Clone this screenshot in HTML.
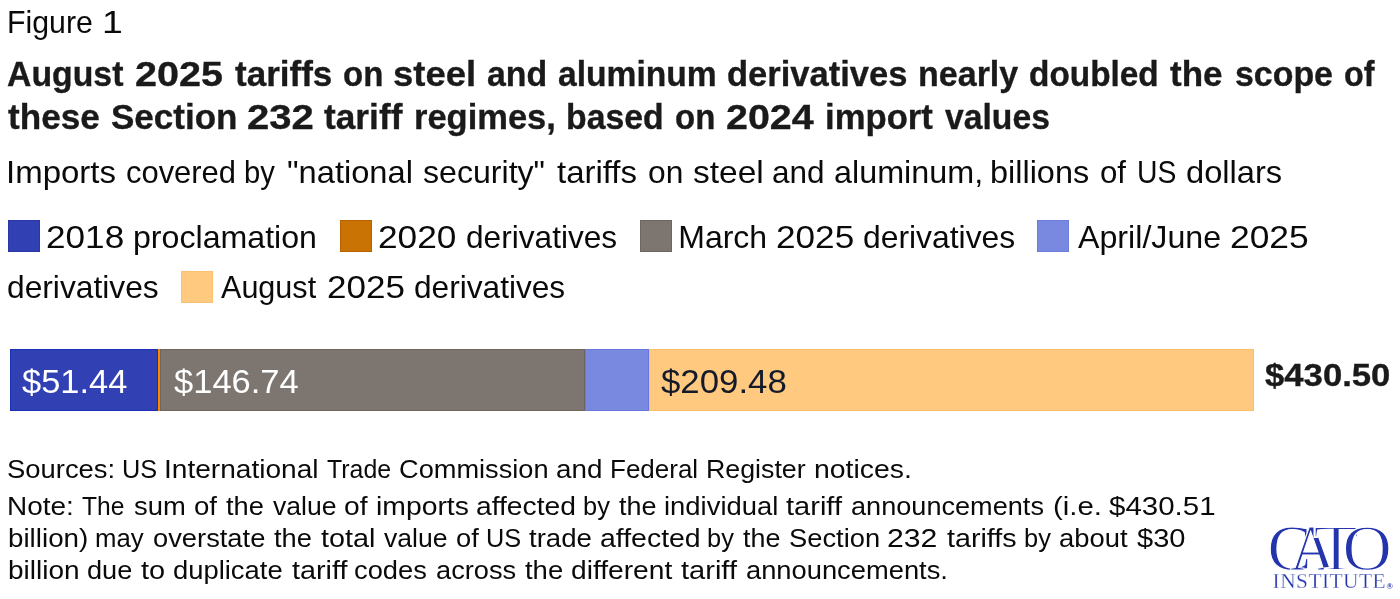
<!DOCTYPE html>
<html lang="en">
<head>
<meta charset="utf-8">
<title>Figure 1</title>
<style>
html,body{margin:0;padding:0;background:#fff;}
body{width:1400px;height:599px;position:relative;overflow:hidden;
  font-family:"Liberation Sans",sans-serif;color:#1a1a1a;}
.ln{position:absolute;left:0;width:1400px;height:1em;line-height:1;white-space:nowrap;margin:0;padding:0;}
.w{position:absolute;top:0;left:0;display:block;line-height:1;white-space:nowrap;transform-origin:0 0;}
.reg{font-weight:400;color:#0a0a0a;}
.bold{font-weight:700;color:#1a1a1a;-webkit-text-stroke:0.35px #1a1a1a;}
.sw{position:absolute;width:32px;height:32px;box-sizing:border-box;}
.seg{position:absolute;top:349px;height:62px;box-sizing:border-box;}
</style>
</head>
<body>

<!-- header -->
<div id="fig" class="ln reg" style="top:7.00px;font-size:31.5px;">
<span class="w" style="left:7.35px;transform:scaleX(0.9608);">Figure</span> <span class="w" style="left:102.04px;transform:scaleX(1.1852);">1</span>
</div>
<div id="t1" class="ln bold" style="top:57.00px;font-size:35.5px;">
<span class="w" style="left:7.05px;transform:scaleX(0.9524);">August</span> <span class="w" style="left:134.86px;transform:scaleX(1.1140);">2025</span> <span class="w" style="left:234.51px;transform:scaleX(0.9871);">tariffs</span> <span class="w" style="left:342.85px;transform:scaleX(0.9308);">on</span> <span class="w" style="left:393.22px;transform:scaleX(1.0259);">steel</span> <span class="w" style="left:487.05px;transform:scaleX(0.9540);">and</span> <span class="w" style="left:557.80px;transform:scaleX(0.9468);">aluminum</span> <span class="w" style="left:727.29px;transform:scaleX(0.9726);">derivatives</span> <span class="w" style="left:917.84px;transform:scaleX(0.9584);">nearly</span> <span class="w" style="left:1029.49px;transform:scaleX(0.9400);">doubled</span> <span class="w" style="left:1170.11px;transform:scaleX(0.9864);">the</span> <span class="w" style="left:1234.51px;transform:scaleX(0.9546);">scope</span> <span class="w" style="left:1344.33px;transform:scaleX(0.9125);">of</span>
</div>
<div id="t2" class="ln bold" style="top:100.00px;font-size:35.5px;">
<span class="w" style="left:8.26px;transform:scaleX(0.9890);">these</span> <span class="w" style="left:110.76px;transform:scaleX(0.9860);">Section</span> <span class="w" style="left:247.34px;transform:scaleX(1.1283);">232</span> <span class="w" style="left:324.00px;transform:scaleX(0.9936);">tariff</span> <span class="w" style="left:414.06px;transform:scaleX(0.9717);">regimes,</span> <span class="w" style="left:565.86px;transform:scaleX(0.9515);">based</span> <span class="w" style="left:674.85px;transform:scaleX(0.9308);">on</span> <span class="w" style="left:725.61px;transform:scaleX(1.1097);">2024</span> <span class="w" style="left:825.06px;transform:scaleX(0.9767);">import</span> <span class="w" style="left:945.26px;transform:scaleX(0.9494);">values</span>
</div>
<div id="sub" class="ln reg" style="top:157.00px;font-size:31.5px;">
<span class="w" style="left:6.36px;transform:scaleX(1.0471);">Imports</span> <span class="w" style="left:125.77px;transform:scaleX(0.9816);">covered</span> <span class="w" style="left:244.40px;transform:scaleX(0.9274);">by</span> <span class="w" style="left:287.46px;transform:scaleX(1.0359);">"national</span> <span class="w" style="left:422.73px;transform:scaleX(1.0192);">security"</span> <span class="w" style="left:557.48px;transform:scaleX(1.0468);">tariffs</span> <span class="w" style="left:647.99px;transform:scaleX(1.0079);">on</span> <span class="w" style="left:692.69px;transform:scaleX(1.0630);">steel</span> <span class="w" style="left:772.00px;transform:scaleX(1.0000);">and</span> <span class="w" style="left:833.72px;transform:scaleX(1.0265);">aluminum,</span> <span class="w" style="left:989.94px;transform:scaleX(1.0295);">billions</span> <span class="w" style="left:1100.01px;transform:scaleX(0.9900);">of</span> <span class="w" style="left:1136.50px;transform:scaleX(0.8994);">US</span> <span class="w" style="left:1186.21px;transform:scaleX(1.0359);">dollars</span>
</div>

<!-- legend row 1 -->
<div class="sw" style="left:8px;top:220px;background:#3141b3;border:1px solid #2a38a6;"></div>
<div id="l1" class="ln reg" style="top:221.00px;font-size:32px;">
<span class="w" style="left:46.35px;transform:scaleX(1.0989);">2018</span> <span class="w" style="left:132.99px;transform:scaleX(1.0042);">proclamation</span>
</div>
<div class="sw" style="left:340px;top:220px;background:#c87304;border:1px solid #b96300;"></div>
<div id="l2" class="ln reg" style="top:221.00px;font-size:32px;">
<span class="w" style="left:378.35px;transform:scaleX(1.1022);">2020</span> <span class="w" style="left:465.76px;transform:scaleX(0.9884);">derivatives</span>
</div>
<div class="sw" style="left:640px;top:220px;background:#7d7670;border:1px solid #6e6761;"></div>
<div id="l3" class="ln reg" style="top:221.00px;font-size:32px;">
<span class="w" style="left:678.25px;transform:scaleX(1.0000);">March</span> <span class="w" style="left:775.85px;transform:scaleX(1.0989);">2025</span> <span class="w" style="left:863.26px;transform:scaleX(0.9953);">derivatives</span>
</div>
<div class="sw" style="left:1037px;top:220px;background:#7a89e0;border:1px solid #6d7ddb;"></div>
<div id="l4" class="ln reg" style="top:221.00px;font-size:32px;">
<span class="w" style="left:1077.60px;transform:scaleX(1.0057);">April/June</span> <span class="w" style="left:1229.64px;transform:scaleX(1.1062);">2025</span>
</div>
<!-- legend row 2 -->
<div id="l5" class="ln reg" style="top:271.00px;font-size:32px;">
<span class="w" style="left:7.01px;transform:scaleX(0.9917);">derivatives</span>
</div>
<div class="sw" style="left:181px;top:271px;background:#ffc97f;border:1px solid #fbc173;"></div>
<div id="l6" class="ln reg" style="top:271.00px;font-size:32px;">
<span class="w" style="left:221.25px;transform:scaleX(0.9548);">August</span> <span class="w" style="left:326.61px;transform:scaleX(1.0952);">2025</span> <span class="w" style="left:413.76px;transform:scaleX(0.9884);">derivatives</span>
</div>

<!-- stacked bar -->
<div class="seg" style="left:10px;width:148px;background:#3141b3;border:1px solid #1b2fb8;"></div>
<div class="seg" style="left:157.8px;width:2.2px;background:#ff8800;"></div>
<div class="seg" style="left:160px;width:424.5px;background:#7d7670;border:1px solid #6f665e;"></div>
<div class="seg" style="left:584.5px;width:64.5px;background:#7a89e0;border:1px solid #6878e0;"></div>
<div class="seg" style="left:649px;width:605px;background:#ffc97f;border:1px solid #ffbe66;"></div>

<div id="b1" class="ln reg" style="top:365.00px;font-size:33.4px;color:#fff;">
<span class="w" style="left:22.48px;transform:scaleX(1.0313);">$51.44</span>
</div>
<div id="b2" class="ln reg" style="top:365.00px;font-size:33.4px;color:#fff;">
<span class="w" style="left:173.73px;transform:scaleX(1.0335);">$146.74</span>
</div>
<div id="b3" class="ln reg" style="top:365.00px;font-size:33.4px;color:#151a2a;">
<span class="w" style="left:660.73px;transform:scaleX(1.0421);">$209.48</span>
</div>
<div id="tot" class="ln bold" style="top:359.00px;font-size:32px;">
<span class="w" style="left:1265.46px;transform:scaleX(1.0840);">$430.50</span>
</div>

<!-- footer -->
<div id="f1" class="ln reg" style="top:456.00px;font-size:26.7px;">
<span class="w" style="left:7.47px;transform:scaleX(1.0271);">Sources:</span> <span class="w" style="left:122.35px;transform:scaleX(0.9481);">US</span> <span class="w" style="left:164.37px;transform:scaleX(1.0526);">International</span> <span class="w" style="left:327.03px;transform:scaleX(0.9328);">Trade</span> <span class="w" style="left:399.23px;transform:scaleX(1.0191);">Commission</span> <span class="w" style="left:556.20px;transform:scaleX(1.0422);">and</span> <span class="w" style="left:609.81px;transform:scaleX(0.9740);">Federal</span> <span class="w" style="left:705.74px;transform:scaleX(1.0026);">Register</span> <span class="w" style="left:813.64px;transform:scaleX(1.0644);">notices.</span>
</div>
<div id="f2" class="ln reg" style="top:493.00px;font-size:26.7px;">
<span class="w" style="left:7.15px;transform:scaleX(1.0466);">Note:</span> <span class="w" style="left:82.04px;transform:scaleX(0.9209);">The</span> <span class="w" style="left:133.73px;transform:scaleX(1.0260);">sum</span> <span class="w" style="left:193.96px;transform:scaleX(1.0353);">of</span> <span class="w" style="left:225.74px;transform:scaleX(1.0211);">the</span> <span class="w" style="left:272.75px;transform:scaleX(0.9960);">value</span> <span class="w" style="left:343.94px;transform:scaleX(1.0588);">of</span> <span class="w" style="left:375.64px;transform:scaleX(1.0619);">imports</span> <span class="w" style="left:475.68px;transform:scaleX(1.0574);">affected</span> <span class="w" style="left:582.83px;transform:scaleX(0.9524);">by</span> <span class="w" style="left:619.25px;transform:scaleX(1.0099);">the</span> <span class="w" style="left:663.70px;transform:scaleX(1.0278);">individual</span> <span class="w" style="left:786.46px;transform:scaleX(1.0882);">tariff</span> <span class="w" style="left:851.23px;transform:scaleX(1.0160);">announcements</span> <span class="w" style="left:1052.58px;transform:scaleX(1.0994);">(i.e.</span> <span class="w" style="left:1109.22px;transform:scaleX(1.1042);">$430.51</span>
</div>
<div id="f3" class="ln reg" style="top:525.00px;font-size:26.7px;">
<span class="w" style="left:7.68px;transform:scaleX(1.0407);">billion)</span> <span class="w" style="left:95.31px;transform:scaleX(0.9639);">may</span> <span class="w" style="left:152.73px;transform:scaleX(1.0233);">overstate</span> <span class="w" style="left:273.99px;transform:scaleX(1.0211);">the</span> <span class="w" style="left:320.71px;transform:scaleX(1.0777);">total</span> <span class="w" style="left:383.50px;transform:scaleX(0.9960);">value</span> <span class="w" style="left:455.98px;transform:scaleX(1.0235);">of</span> <span class="w" style="left:486.10px;transform:scaleX(0.9481);">US</span> <span class="w" style="left:529.48px;transform:scaleX(1.0338);">trade</span> <span class="w" style="left:599.92px;transform:scaleX(1.0656);">affected</span> <span class="w" style="left:707.08px;transform:scaleX(0.9524);">by</span> <span class="w" style="left:743.25px;transform:scaleX(1.0070);">the</span> <span class="w" style="left:788.72px;transform:scaleX(1.0233);">Section</span> <span class="w" style="left:887.34px;transform:scaleX(1.1310);">232</span> <span class="w" style="left:946.96px;transform:scaleX(1.0751);">tariffs</span> <span class="w" style="left:1024.08px;transform:scaleX(0.9524);">by</span> <span class="w" style="left:1059.22px;transform:scaleX(1.0268);">about</span> <span class="w" style="left:1137.23px;transform:scaleX(1.0890);">$30</span>
</div>
<div id="f4" class="ln reg" style="top:557.00px;font-size:26.7px;">
<span class="w" style="left:7.66px;transform:scaleX(1.0502);">billion</span> <span class="w" style="left:87.23px;transform:scaleX(1.0178);">due</span> <span class="w" style="left:140.71px;transform:scaleX(1.0843);">to</span> <span class="w" style="left:173.22px;transform:scaleX(1.0263);">duplicate</span> <span class="w" style="left:291.96px;transform:scaleX(1.0784);">tariff</span> <span class="w" style="left:354.47px;transform:scaleX(1.0217);">codes</span> <span class="w" style="left:435.73px;transform:scaleX(1.0196);">across</span> <span class="w" style="left:524.99px;transform:scaleX(1.0282);">the</span> <span class="w" style="left:571.44px;transform:scaleX(1.0554);">different</span> <span class="w" style="left:681.46px;transform:scaleX(1.0882);">tariff</span> <span class="w" style="left:746.22px;transform:scaleX(1.0232);">announcements.</span>
</div>

<!-- logo -->
<svg id="logo" role="img" aria-label="CATO INSTITUTE" style="position:absolute;left:1260px;top:515px;" width="140" height="84" viewBox="1260 515 140 84">
  <title>CATO INSTITUTE</title>
  <g fill="#2334ac" stroke="#ffffff" paint-order="fill stroke" font-family="'Liberation Serif',serif" font-size="66">
    <text transform="translate(1267.5,569.8) scale(1.0,1)" stroke-width="1.1" vector-effect="non-scaling-stroke">C</text><text transform="translate(1289.9,569.8) scale(0.95,1)" stroke-width="1.0" vector-effect="non-scaling-stroke">A</text><text transform="translate(1313.2,569.8) scale(1.14,1)" stroke-width="2.0" vector-effect="non-scaling-stroke">T</text><text transform="translate(1342.6,569.8) scale(1.035,1)" stroke-width="1.3" vector-effect="non-scaling-stroke">O</text>
  </g>
  <g fill="#2334ac" font-family="'Liberation Serif',serif">
    <text id="inst" x="1272.6" y="588.3" font-size="21.4" letter-spacing="0.45" stroke="#ffffff" stroke-width="0.3" paint-order="fill stroke">INSTITUTE</text>
    <text id="reg" x="1386.4" y="588.6" font-size="8.5" font-weight="700">®</text>
  </g>
</svg>

</body>
</html>
